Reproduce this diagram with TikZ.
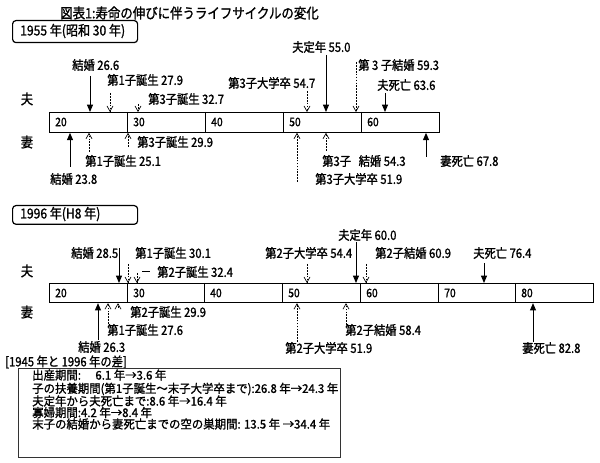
\documentclass[tikz,border=0pt]{standalone}
\usepackage{fontspec}
\setmainfont{Noto Sans CJK JP}[FakeBold=1.3,FakeStretch=0.88]
\newfontfamily\boxfont{Noto Sans CJK JP}[FakeBold=1.3,FakeStretch=0.95]
\usetikzlibrary{arrows.meta}
\begin{document}
\begin{tikzpicture}[x=0.75pt,y=-0.75pt,
  lab/.style={anchor=west,inner sep=0pt,font=\fontsize{9.6}{10}\selectfont},
  boxlab/.style={anchor=west,inner sep=0pt,font=\boxfont\fontsize{9}{10}\selectfont},
  yearlab/.style={anchor=west,inner sep=0pt,font=\fontsize{10.3}{11}\selectfont},
  dec/.style={anchor=west,inner sep=0pt,font=\fontsize{8.8}{10}\selectfont},
  row/.style={inner sep=0pt,font=\fontsize{10.5}{10}\selectfont},
  solidarr/.style={-{Triangle[length=5.5pt,width=4.5pt]},line width=0.7pt},
  dasharr/.style={-{Straight Barb[length=4pt,width=4.5pt]},line width=0.5pt,dash pattern=on 1.3pt off 0.9pt},
  barbox/.style={draw,line width=0.6pt,inner sep=0pt,anchor=north west},
  yearbox/.style={draw,line width=0.9pt,rounded corners=2.5pt,inner sep=0pt,anchor=north west}
]
\useasboundingbox (0,0) rectangle (600,463);
% title
\node[anchor=west,inner sep=0pt,font=\fontsize{10.6}{11}\selectfont] (title) at (60,13) {図表1:寿命の伸びに伴うライフサイクルの変化};

% ================= 1955 =================
\node[yearbox,minimum width=93.75pt,minimum height=16.5pt] (yA) at (12,20) {};
\node[yearlab] (yAt) at (20,31) {1955 年(昭和 30 年)};
\node[row] (fuA) at (27,99) {夫};
\node[row] (tsA) at (27,142) {妻};
\node[barbox,minimum width=292.5pt,minimum height=15pt] (barA) at (49,112) {};
\foreach \x in {127,205,283,361} \draw[line width=0.6pt] (\x,112) -- (\x,132);
\node[dec] (dA20) at (55,122) {20};
\node[dec] (dA30) at (133,122) {30};
\node[dec] (dA40) at (211,122) {40};
\node[dec] (dA50) at (289,122) {50};
\node[dec] (dA60) at (367,122) {60};
% husband labels
\node[lab] (lh1) at (72,65) {結婚 26.6};
\node[lab] (lh2) at (107,80) {第1子誕生 27.9};
\node[lab] (lh3) at (148,99) {第3子誕生 32.7};
\node[lab] (lh4) at (228,83) {第3子大学卒 54.7};
\node[lab] (lh5) at (292,47) {夫定年 55.0};
\node[lab] (lh6) at (358,65) {第 3 子結婚 59.3};
\node[lab] (lh7) at (377,85) {夫死亡 63.6};
\coordinate (ah1) at (90,76);
\coordinate (ah2) at (110,93);
\coordinate (ah3) at (138,104);
\coordinate (ah4) at (307,91);
\coordinate (ah5) at (326,55);
\coordinate (ah6) at (356,62);
\coordinate (ah7) at (385,93);
\draw[solidarr] (ah1) -- (ah1 |- barA.north);
\draw[dasharr] (ah2) -- (ah2 |- barA.north);
\draw[dasharr] (ah3) -- (ah3 |- barA.north);
\draw[dasharr] (ah4) -- (ah4 |- barA.north);
\draw[solidarr] (ah5) -- (ah5 |- barA.north);
\draw[dasharr] (ah6) -- (ah6 |- barA.north);
\draw[solidarr] (ah7) -- (ah7 |- barA.north);
% wife labels
\node[lab] (lw1) at (50,179) {結婚 23.8};
\node[lab] (lw2) at (85,161) {第1子誕生 25.1};
\node[lab] (lw3) at (137,142) {第3子誕生 29.9};
\node[lab] (lw4) at (315,179) {第3子大学卒 51.9};
\node[lab] (lw5) at (322,161) {第3子\hspace{0.6em}結婚 54.3};
\node[lab] (lw6) at (440,161) {妻死亡 67.8};
\coordinate (aw1) at (70,167);
\coordinate (aw2) at (89,152);
\coordinate (aw3) at (128,147);
\coordinate (aw4) at (297,182);
\coordinate (aw5) at (326,151);
\coordinate (aw6) at (426,157);
\draw[solidarr] (aw1) -- (aw1 |- barA.south);
\draw[dasharr] (aw2) -- (aw2 |- barA.south);
\draw[dasharr] (aw3) -- (aw3 |- barA.south);
\draw[dasharr] (aw4) -- (aw4 |- barA.south);
\draw[dasharr] (aw5) -- (aw5 |- barA.south);
\draw[solidarr] (aw6) -- (aw6 |- barA.south);

% ================= 1996 =================
\node[yearbox,minimum width=93.75pt,minimum height=14pt] (yB) at (12,205) {};
\node[yearlab] (yBt) at (20,214) {1996 年(H8 年)};
\node[row] (fuB) at (27,271) {夫};
\node[row] (tsB) at (27,312) {妻};
\node[barbox,minimum width=408pt,minimum height=14.5pt] (barB) at (49,283) {};
\foreach \x in {127,204,282,360,438,515} \draw[line width=0.6pt] (\x,283) -- (\x,302);
\node[dec] (dB20) at (55,293) {20};
\node[dec] (dB30) at (133,293) {30};
\node[dec] (dB40) at (210,293) {40};
\node[dec] (dB50) at (288,293) {50};
\node[dec] (dB60) at (366,293) {60};
\node[dec] (dB70) at (444,293) {70};
\node[dec] (dB80) at (521,293) {80};
% husband labels
\node[lab] (lH1) at (71,253) {結婚 28.5};
\node[lab] (lH2) at (135,253) {第1子誕生 30.1};
\node[lab] (lH3) at (157,272) {第2子誕生 32.4};
\node[lab] (lH4) at (265,253) {第2子大学卒 54.4};
\node[lab] (lH5) at (338,235) {夫定年 60.0};
\node[lab] (lH6) at (375,253) {第2子結婚 60.9};
\node[lab] (lH7) at (473,253) {夫死亡 76.4};
\coordinate (aH1) at (119,248);
\coordinate (aH2) at (128,264);
\coordinate (aH3) at (137,273);
\coordinate (aH4) at (307,264);
\coordinate (aH5) at (356,242);
\coordinate (aH6) at (366,264);
\coordinate (aH7) at (484,263);
\draw[solidarr] (aH1) -- (aH1 |- barB.north);
\draw[dasharr] (aH2) -- (aH2 |- barB.north);
\draw[dasharr] (aH3) -- (aH3 |- barB.north);
\draw[dasharr] (aH4) -- (aH4 |- barB.north);
\draw[solidarr] (aH5) -- (aH5 |- barB.north);
\draw[dasharr] (aH6) -- (aH6 |- barB.north);
\draw[solidarr] (aH7) -- (aH7 |- barB.north);
\coordinate (tk1) at (142,271);
\coordinate (tk2) at (150,271);
\draw[line width=0.7pt] (tk1) -- (tk2);
% wife labels
\node[lab] (lW1) at (78,347) {結婚 26.3};
\node[lab] (lW2) at (107,330) {第1子誕生 27.6};
\node[lab] (lW3) at (130,312) {第2子誕生 29.9};
\node[lab] (lW4) at (285,348) {第2子大学卒 51.9};
\node[lab] (lW5) at (345,330) {第2子結婚 58.4};
\node[lab] (lW6) at (522,348) {妻死亡 82.8};
\coordinate (aW1) at (98,340);
\coordinate (aW2) at (108,324);
\coordinate (aW3) at (118,308);
\coordinate (aW4) at (297,342);
\coordinate (aW5) at (346,325);
\coordinate (aW6) at (533,342);
\draw[solidarr] (aW1) -- (aW1 |- barB.south);
\draw[dasharr] (aW2) -- (aW2 |- barB.south);
\draw[dasharr] (aW3) -- (aW3 |- barB.south);
\draw[dasharr] (aW4) -- (aW4 |- barB.south);
\draw[dasharr] (aW5) -- (aW5 |- barB.south);
\draw[solidarr] (aW6) -- (aW6 |- barB.south);

% ================= difference =================
\node[lab] (dh) at (5,362) {[1945 年と 1996 年の差]};
\node[draw,line width=1pt,draw=black!80,inner sep=0pt,anchor=north west,minimum width=241.5pt,minimum height=66.75pt] (dbox) at (18,368) {};
\node[boxlab] (d1) at (32,375) {出産期間:\hspace{1.2em}6.1 年→3.6 年};
\node[boxlab] (d2) at (32,389) {子の扶養期間(第1子誕生～末子大学卒まで):26.8 年→24.3 年};
\node[boxlab] (d3) at (32,401) {夫定年から夫死亡まで:8.6 年→16.4 年};
\node[boxlab] (d4) at (32,412.5) {寡婦期間:4.2 年→8.4 年};
\node[boxlab] (d5) at (32,424) {末子の結婚から妻死亡までの空の巣期間: 13.5 年 →34.4 年};
\end{tikzpicture}
\end{document}
